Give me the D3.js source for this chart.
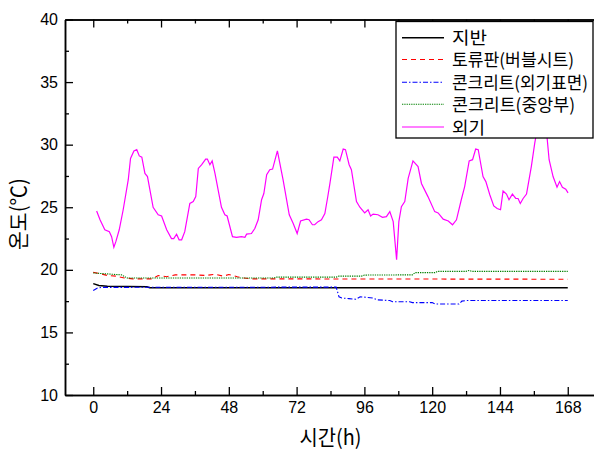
<!DOCTYPE html>
<html><head>
<meta charset="utf-8">
<script src="https://d3js.org/d3.v7.min.js"></script>
<style>
  body { margin:0; background:#fff; }
  .tick text { font-family:"Liberation Sans", Arial, sans-serif; font-size:16px; fill:#000; }
  .kr { font-family:"Noto Sans CJK KR", sans-serif; fill:#000; }
</style>
</head>
<body>
<svg width="594" height="450"></svg>
<script>
// ---- data ----
var xTicks = [0, 24, 48, 72, 96, 120, 144, 168];
var yTicks = [10, 15, 20, 25, 30, 35, 40];

var groundT = [0, 2, 5, 19, 20, 168];
var groundV = [18.9, 18.75, 18.68, 18.65, 18.57, 18.57];

var bubbleT = [0, 2, 5, 8, 11, 14, 21, 23, 26, 29, 32, 36, 40, 43, 46, 48, 51, 53, 56, 168];
var bubbleV = [19.8, 19.72, 19.55, 19.5, 19.35, 19.28, 19.28, 19.55, 19.45, 19.6, 19.6, 19.6, 19.55, 19.65, 19.5, 19.62, 19.45, 19.35, 19.28, 19.25];

var surfT = [0, 1.5, 3, 86, 87, 88, 90.5, 93, 94.5, 97, 99, 100.5, 105, 106, 112, 113, 120, 121, 129.5, 130.5, 132, 168];
var surfV = [18.35, 18.55, 18.6, 18.62, 17.85, 17.75, 17.7, 17.65, 17.85, 17.8, 17.75, 17.6, 17.55, 17.45, 17.45, 17.38, 17.38, 17.27, 17.27, 17.5, 17.55, 17.55];

var midT = [0, 3, 10, 12, 64, 65, 86, 87, 95, 96, 113, 114, 121, 122, 132, 133, 134, 168];
var midV = [19.75, 19.7, 19.6, 19.35, 19.35, 19.42, 19.42, 19.5, 19.5, 19.58, 19.6, 19.78, 19.78, 19.88, 19.88, 19.95, 19.88, 19.88];

var outT = [1.2, 2.4, 4.1, 5.7, 6.5, 7.3, 8.0, 9.2, 10.6, 12.4, 13.2, 14.4, 15.4, 16.3, 17.2, 18.3, 19.2, 21.2, 23.0, 24.2,
  26.0, 27.7, 28.5, 29.5, 30.4, 31.3, 32.4, 34.2, 35.4, 36.3, 37.2, 38.4, 39.8, 40.4, 41.3, 42.1, 43.1, 45.4, 46.6, 47.4,
  49.3, 50.7, 52.5, 53.7, 54.3, 56.0, 57.2, 58.4, 59.6, 60.4, 61.4, 62.5, 63.5, 65.2, 67.2, 69.4, 70.8, 72.2, 73.4, 75.5,
  76.4, 77.6, 78.4, 79.6, 80.8, 82.0, 83.0, 83.8, 85.2, 86.4, 87.3, 88.5, 89.3, 90.6, 91.4, 93.2, 94.4, 96.1, 97.3, 98.2,
  99.1, 100.8, 102.4, 103.8, 105.0, 106.2, 107.4, 108.2, 109.1, 110.3, 111.5, 113.2, 115.0, 116.2, 118.5, 120.9, 122.1, 123.9, 125.7, 127.2,
  128.6, 130.3, 131.5, 133.1, 134.3, 135.4, 136.3, 138.0, 139.0, 140.4, 141.8, 143.0, 144.2, 145.1, 146.3, 147.2, 148.4, 149.6, 150.4, 151.2,
  152.2, 153.4, 155.1, 156.3, 157.0, 158.5, 160.5, 161.4, 162.8, 164.2, 165.1, 166.1, 167.3, 168.1];
var outV = [24.7, 24.0, 23.2, 23.05, 22.65, 21.8, 22.25, 23.2, 24.8, 27.2, 28.9, 29.5, 29.6, 29.1, 29.0, 27.7, 27.45, 25.0, 24.4, 24.3,
  23.2, 22.5, 22.5, 22.85, 22.4, 22.4, 23.05, 25.3, 25.45, 25.85, 28.1, 28.4, 28.85, 28.85, 28.4, 28.7, 27.7, 25.0, 24.4, 24.3,
  22.65, 22.6, 22.65, 22.6, 22.85, 22.9, 23.3, 24.0, 25.6, 26.1, 27.6, 28.0, 28.05, 29.5, 27.2, 24.4, 23.7, 22.9, 23.9, 24.05,
  24.0, 23.6, 23.6, 23.85, 24.0, 24.5, 25.8, 26.9, 29.0, 29.0, 28.7, 29.65, 29.6, 28.4, 28.0, 25.45, 25.0, 24.55, 24.8, 24.3,
  24.45, 24.4, 24.2, 24.25, 24.65, 23.85, 20.8, 23.85, 25.05, 25.45, 27.3, 28.7, 28.25, 26.9, 25.85, 24.65, 24.55, 24.05, 23.9, 23.6,
  24.0, 25.6, 26.65, 28.7, 28.8, 29.65, 29.6, 27.45, 27.05, 26.0, 25.1, 24.9, 24.8, 26.3, 26.05, 25.6, 26.05, 25.7, 25.7, 25.3,
  25.7, 26.05, 28.25, 30.1, 31.0, 32.0, 31.0, 28.8, 27.45, 26.6, 27.05, 26.6, 26.45, 26.15];

var seriesNames = ["지반", "토류판(버블시트)", "콘크리트(외기표면)", "콘크리트(중앙부)", "외기"];

// ---- layout ----
const svg = d3.select("svg");
const plotL = 65, plotR = 596, plotT = 19.5, plotB = 395;

var x = d3.scaleLinear().domain([-10, 178]).range([plotL, plotR]);
var y = d3.scaleLinear().domain([10, 40]).range([plotB, plotT]);

var series = [
  { name: seriesNames[0], t: groundT, v: groundV, color: "#000000", dash: null, w: 1.5, len: 35 },
  { name: seriesNames[1], t: bubbleT, v: bubbleV, color: "#ff0000", dash: "5,4", w: 1.1, len: 122 },
  { name: seriesNames[2], t: surfT, v: surfV, color: "#0000ff", dash: "5,2,1.5,2", w: 1.1, len: 136 },
  { name: seriesNames[3], t: midT, v: midV, color: "#008000", dash: "1.3,1", w: 1.1, len: 123 },
  { name: seriesNames[4], t: outT, v: outV, color: "#ff00ff", dash: null, w: 1.2, len: 33 }
];

svg.append("clipPath").attr("id", "plotclip")
  .append("rect").attr("x", plotL).attr("y", plotT).attr("width", plotR - plotL).attr("height", plotB - plotT);

var line = d3.line().x(function(d) { return x(d[0]); }).y(function(d) { return y(d[1]); });

var gLines = svg.append("g").attr("clip-path", "url(#plotclip)");
series.forEach(function(s) {
  var pts = s.t.map(function(t, i) { return [t, s.v[i]]; });
  gLines.append("path")
    .attr("d", line(pts))
    .attr("fill", "none")
    .attr("stroke", s.color)
    .attr("stroke-width", s.w)
    .attr("stroke-dasharray", s.dash);
});

// ---- axes (ticks point inward) ----
function styleAxis(g) {
  g.selectAll("path.domain").attr("stroke", "#000").attr("stroke-width", 1.5);
  g.selectAll(".tick line").attr("stroke", "#000").attr("stroke-width", 1.3);
}
var xMinor = d3.range(-12, 180, 12).filter(function(v) { return v % 24 != 0 && v > -10; });
var yMinor = d3.range(12.5, 40, 5);

svg.append("g").attr("transform", "translate(0," + plotB + ")")
  .call(d3.axisBottom(x).tickValues(xMinor).tickSize(-4).tickSizeOuter(0).tickFormat(""))
  .call(styleAxis);
svg.append("g").attr("transform", "translate(0," + plotB + ")")
  .call(d3.axisBottom(x).tickValues(xTicks).tickSize(-8).tickSizeOuter(0).tickPadding(7))
  .call(styleAxis);

svg.append("g").attr("transform", "translate(0," + plotT + ")")
  .call(d3.axisTop(x).tickValues(xMinor).tickSize(-4).tickSizeOuter(0).tickFormat(""))
  .call(styleAxis);
svg.append("g").attr("transform", "translate(0," + plotT + ")")
  .call(d3.axisTop(x).tickValues(xTicks).tickSize(-8).tickSizeOuter(0).tickFormat(""))
  .call(styleAxis);

svg.append("g").attr("transform", "translate(" + plotL + ",0)")
  .call(d3.axisLeft(y).tickValues(yMinor).tickSize(-4).tickSizeOuter(0).tickFormat(""))
  .call(styleAxis);
svg.append("g").attr("transform", "translate(" + plotL + ",0)")
  .call(d3.axisLeft(y).tickValues(yTicks).tickSize(-8).tickSizeOuter(0).tickPadding(7))
  .call(styleAxis);

// ---- axis titles ----
svg.append("text").attr("class", "kr")
  .attr("transform", "translate(26,214) rotate(-90)")
  .attr("text-anchor", "middle")
  .style("font-size", "21px")
  .attr("textLength", 72).attr("lengthAdjust", "spacingAndGlyphs")
  .text("온도(℃)");

svg.append("text").attr("class", "kr")
  .attr("x", x(84)).attr("y", 445)
  .attr("text-anchor", "middle")
  .style("font-size", "21px")
  .attr("textLength", 62).attr("lengthAdjust", "spacingAndGlyphs")
  .text("시간(h)");

// ---- legend ----
var leg = svg.append("g");
leg.append("rect")
  .attr("x", 396).attr("y", 21.5).attr("width", 197).attr("height", 116.5)
  .attr("fill", "#fff").attr("stroke", "#000").attr("stroke-width", 1.3);

var rowY = [37.7, 59.5, 82.2, 104.3, 127];
series.forEach(function(s, i) {
  leg.append("line")
    .attr("x1", 402).attr("x2", 444)
    .attr("y1", rowY[i]).attr("y2", rowY[i])
    .attr("stroke", s.color)
    .attr("stroke-width", s.w)
    .attr("stroke-dasharray", s.dash);
  leg.append("text").attr("class", "kr")
    .attr("x", 452).attr("y", rowY[i] + 6.5)
    .style("font-size", "17.5px")
    .attr("textLength", s.len).attr("lengthAdjust", "spacingAndGlyphs")
    .text(s.name);
});
</script>
</body>
</html>
